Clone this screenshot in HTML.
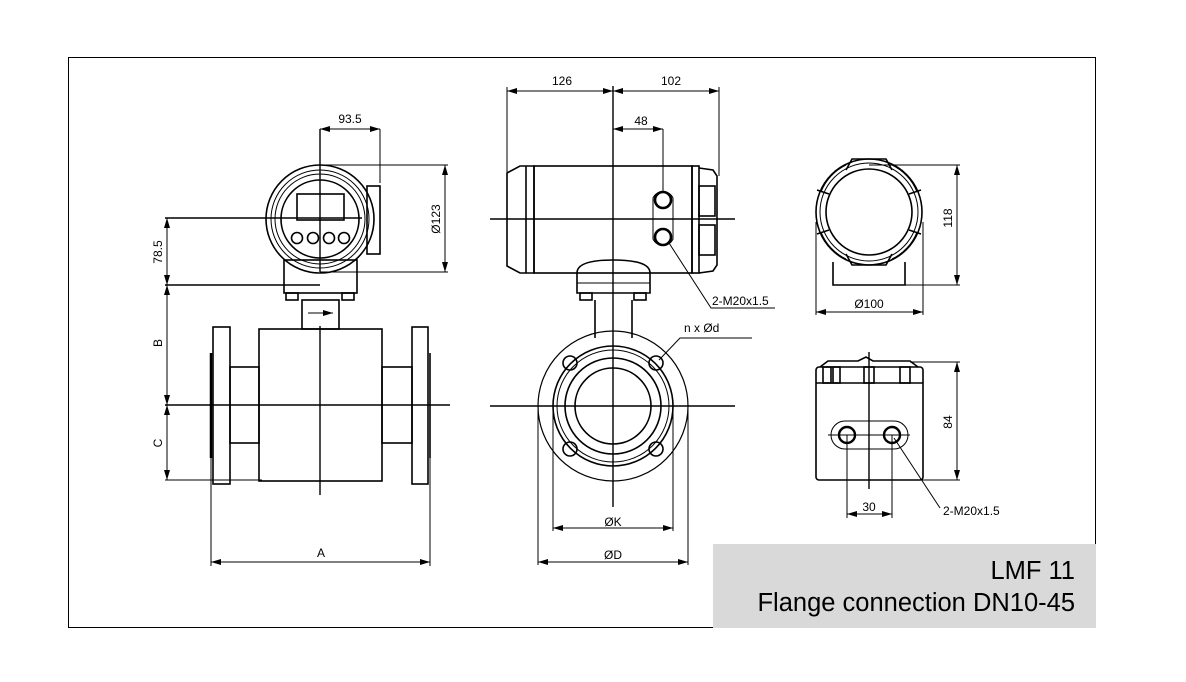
<!DOCTYPE html>
<html><head><meta charset="utf-8"><style>
html,body{margin:0;padding:0;background:#fff;}
svg{display:block;}
text{font-family:"Liberation Sans",Arial,sans-serif;fill:#000;}
</style></head><body>
<svg width="1186" height="682" viewBox="0 0 1186 682" xmlns="http://www.w3.org/2000/svg">
<defs>
<marker id="a" viewBox="0 0 10 6" refX="10" refY="3" markerWidth="10" markerHeight="6" orient="auto-start-reverse" markerUnits="userSpaceOnUse"><path d="M0,0 L10,3 L0,6 z" fill="#000"/></marker>
</defs>
<rect x="0" y="0" width="1186" height="682" fill="#fff"/>
<rect x="68.5" y="57.5" width="1027" height="570" fill="none" stroke="#000" stroke-width="1"/>
<rect x="713" y="544" width="383" height="84" fill="#d9d9d9"/>
<text x="1075" y="579" font-size="25.5" text-anchor="end">LMF 11</text>
<text x="1075" y="611" font-size="25.5" text-anchor="end">Flange connection DN10-45</text>

<g fill="none" stroke="#000" stroke-width="1.6">
<!-- LEFT VIEW -->
<circle cx="320" cy="219" r="54"/>
<circle cx="320" cy="219" r="49" stroke-width="1"/>
<circle cx="320" cy="219" r="45" stroke-width="1"/>
<circle cx="320" cy="219" r="39"/>
<rect x="297" y="194" width="47" height="26"/>
<circle cx="297" cy="238" r="5.5"/><circle cx="313" cy="238" r="5.5"/><circle cx="329" cy="238" r="5.5"/><circle cx="344" cy="238" r="5.5"/>
<rect x="367" y="186" width="13" height="68"/>
<rect x="284" y="260" width="73" height="33"/>
<rect x="286" y="293" width="12" height="7"/><rect x="342" y="293" width="12" height="7"/>
<rect x="302" y="300" width="37" height="29"/>
<rect x="259" y="329" width="123" height="152"/>
<rect x="213" y="327" width="17" height="157"/>
<rect x="412" y="327" width="16" height="157"/>
<line x1="211" y1="353" x2="211" y2="458" stroke-width="2.5"/>
<line x1="430" y1="353" x2="430" y2="458"/>
<rect x="230" y="367" width="29" height="76"/>
<rect x="382" y="367" width="30" height="76"/>

<!-- MIDDLE VIEW -->
<path d="M507,173 L520,166 L534,166 L534,273 L520,273 L507,266 Z"/>
<line x1="526" y1="166" x2="526" y2="273"/>
<rect x="534" y="166" width="158" height="107"/>
<rect x="692" y="166" width="7" height="107"/>
<path d="M699,168 L713,170 L717,176 L717,265 L713,271 L699,273"/>
<rect x="699" y="186" width="16" height="30"/><rect x="699" y="225" width="16" height="30"/>
<path d="M653,198 A11,11 0 0 1 673,198 L673,239 A11,11 0 0 1 653,239 Z" stroke-width="1"/>
<circle cx="663" cy="200" r="8" stroke-width="2.6"/><circle cx="663" cy="237" r="8" stroke-width="2.6"/>
<path d="M577,293 L577,273 Q577,260 613,260 Q650,260 650,273 L650,293 Z"/>
<line x1="577" y1="283" x2="650" y2="283" stroke-width="1"/>
<rect x="580" y="293" width="12" height="7"/><rect x="634" y="293" width="12" height="7"/>
<line x1="595" y1="300" x2="595" y2="338"/><line x1="632" y1="300" x2="632" y2="338"/>
<circle cx="613" cy="406" r="75" stroke-width="1.2"/>
<circle cx="613" cy="406" r="60"/>
<circle cx="613" cy="406" r="56" stroke-width="1"/>
<circle cx="613" cy="406" r="48"/>
<circle cx="613" cy="406" r="38"/>
<circle cx="570" cy="363" r="7"/><circle cx="656" cy="363" r="7"/>
<circle cx="570" cy="449" r="7"/><circle cx="656" cy="449" r="7"/>

<!-- RIGHT TOP -->
<circle cx="869" cy="212" r="53"/>
<circle cx="869" cy="212" r="49" stroke-width="1"/>
<circle cx="869" cy="212" r="43"/>
<g stroke-width="1.6">
<path d="M846,170 L852,159 L886,159 L892,170"/>
<path d="M846,254 L852,265 L886,265 L892,254"/>
<path d="M829,194 L817,190"/><path d="M829,230 L817,234"/>
<path d="M909,194 L921,190"/><path d="M909,230 L921,234"/>
<path d="M821,192 A50,50 0 0 1 846,165" stroke-width="1"/>
<path d="M892,165 A50,50 0 0 1 917,192" stroke-width="1"/>
<path d="M821,232 A50,50 0 0 0 846,259" stroke-width="1"/>
<path d="M892,259 A50,50 0 0 0 917,232" stroke-width="1"/>
</g>
<polyline points="833,262 833,285 905,285 905,262"/>

<!-- RIGHT BOTTOM -->
<rect x="816" y="367" width="107" height="113" rx="3"/>
<line x1="816" y1="383" x2="923" y2="383"/>
<path d="M820,367 L828,361 L858,361 L866,357 L873,361 L910,361 L918,367"/>
<rect x="823" y="367" width="8" height="16"/><rect x="833" y="367" width="7" height="16"/>
<rect x="864" y="367" width="10" height="16"/><rect x="900" y="367" width="10" height="16"/>
<path d="M845,421 L894,421 A14,14 0 0 1 894,449 L845,449 A14,14 0 0 1 845,421 Z" stroke-width="1"/>
<circle cx="847" cy="435" r="8" stroke-width="2.4"/><circle cx="892" cy="435" r="8" stroke-width="2.4"/>
</g>

<g fill="none" stroke="#000" stroke-width="1">
<line x1="320" y1="129" x2="320" y2="272" stroke-width="1.4"/>
<line x1="380" y1="129" x2="380" y2="183"/>
<line x1="320" y1="129" x2="380" y2="129" marker-start="url(#a)" marker-end="url(#a)"/>
<line x1="320" y1="165" x2="448" y2="165"/>
<line x1="320" y1="272" x2="448" y2="272"/>
<line x1="445" y1="165" x2="445" y2="272" marker-start="url(#a)" marker-end="url(#a)"/>
<line x1="165" y1="218" x2="362" y2="218" stroke-width="1.4"/>
<line x1="165" y1="285" x2="320" y2="285" stroke-width="1.4"/>
<line x1="167" y1="218" x2="167" y2="285" marker-start="url(#a)" marker-end="url(#a)"/>
<line x1="167" y1="285" x2="167" y2="405" marker-start="url(#a)" marker-end="url(#a)"/>
<line x1="167" y1="405" x2="167" y2="480" marker-start="url(#a)" marker-end="url(#a)"/>
<line x1="165" y1="480" x2="262" y2="480"/>
<line x1="165" y1="405" x2="450" y2="405" stroke-width="1.4"/>
<line x1="320" y1="326" x2="320" y2="495" stroke-width="1.4"/>
<line x1="308" y1="313" x2="333" y2="313" marker-end="url(#a)"/>
<line x1="211" y1="458" x2="211" y2="566"/>
<line x1="430" y1="458" x2="430" y2="566"/>
<line x1="211" y1="562" x2="430" y2="562" marker-start="url(#a)" marker-end="url(#a)"/>
<line x1="613" y1="86" x2="613" y2="507" stroke-width="1.4"/>
<line x1="507" y1="87" x2="507" y2="172"/>
<line x1="719" y1="87" x2="719" y2="176"/>
<line x1="507" y1="91" x2="613" y2="91" marker-start="url(#a)" marker-end="url(#a)"/>
<line x1="613" y1="91" x2="719" y2="91" marker-start="url(#a)" marker-end="url(#a)"/>
<line x1="613" y1="129" x2="663" y2="129" marker-start="url(#a)" marker-end="url(#a)"/>
<line x1="663" y1="129" x2="663" y2="192"/>
<line x1="490" y1="219" x2="735" y2="219" stroke-width="1.4"/>
<line x1="490" y1="406" x2="735" y2="406" stroke-width="1.4"/>
<polyline points="669,243 711,308 775,308"/>
<polyline points="659,360 680,338 752,338"/>
<line x1="553" y1="406" x2="553" y2="531"/>
<line x1="673" y1="406" x2="673" y2="531"/>
<line x1="553" y1="528" x2="673" y2="528" marker-start="url(#a)" marker-end="url(#a)"/>
<line x1="538" y1="406" x2="538" y2="565"/>
<line x1="688" y1="406" x2="688" y2="565"/>
<line x1="538" y1="562" x2="688" y2="562" marker-start="url(#a)" marker-end="url(#a)"/>
<line x1="869" y1="165" x2="960" y2="165"/>
<line x1="905" y1="285" x2="960" y2="285"/>
<line x1="957" y1="165" x2="957" y2="285" marker-start="url(#a)" marker-end="url(#a)"/>
<line x1="816" y1="222" x2="816" y2="315"/>
<line x1="923" y1="222" x2="923" y2="315"/>
<line x1="816" y1="312" x2="923" y2="312" marker-start="url(#a)" marker-end="url(#a)"/>
<line x1="869" y1="352" x2="869" y2="489" stroke-width="1.4"/>
<line x1="828" y1="435" x2="910" y2="435"/>
<line x1="910" y1="362" x2="960" y2="362"/>
<line x1="910" y1="480" x2="960" y2="480"/>
<line x1="957" y1="362" x2="957" y2="480" marker-start="url(#a)" marker-end="url(#a)"/>
<line x1="847" y1="435" x2="847" y2="518"/>
<line x1="892" y1="435" x2="892" y2="518"/>
<line x1="847" y1="514" x2="892" y2="514" marker-start="url(#a)" marker-end="url(#a)"/>
<line x1="894" y1="438" x2="940" y2="508"/>
</g>

<g font-size="12">
<text x="350" y="123" text-anchor="middle">93.5</text>
<text x="442" y="219" text-anchor="middle" transform="rotate(-90 442 219)" dy="-2">Ø123</text>
<text x="162" y="252" text-anchor="middle" transform="rotate(-90 162 252)">78.5</text>
<text x="162" y="343" text-anchor="middle" transform="rotate(-90 162 343)">B</text>
<text x="162" y="443" text-anchor="middle" transform="rotate(-90 162 443)">C</text>
<text x="321" y="557" text-anchor="middle">A</text>
<text x="562" y="85" text-anchor="middle">126</text>
<text x="671" y="85" text-anchor="middle">102</text>
<text x="641" y="125" text-anchor="middle">48</text>
<text x="712" y="305">2-M20x1.5</text>
<text x="684" y="332">n x Ød</text>
<text x="613" y="526" text-anchor="middle">ØK</text>
<text x="613" y="559" text-anchor="middle">ØD</text>
<text x="869" y="308" text-anchor="middle">Ø100</text>
<text x="952" y="218" text-anchor="middle" transform="rotate(-90 952 218)">118</text>
<text x="952" y="422" text-anchor="middle" transform="rotate(-90 952 422)">84</text>
<text x="869" y="511" text-anchor="middle">30</text>
<text x="943" y="515">2-M20x1.5</text>
</g>
</svg>
</body></html>
